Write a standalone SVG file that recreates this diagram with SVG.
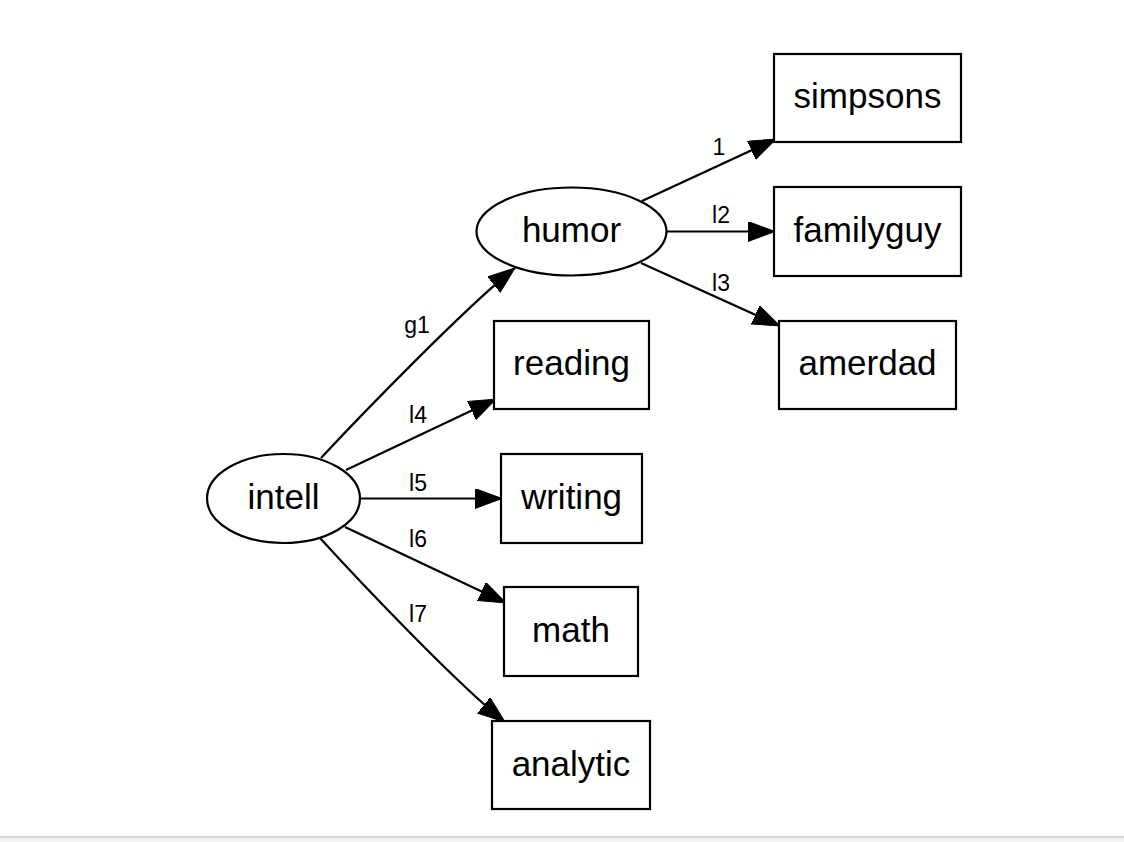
<svg xmlns="http://www.w3.org/2000/svg" width="1124" height="842" viewBox="0 0 1124 842">
<style>
.node{fill:#fff;stroke:#000;stroke-width:2.2}
.lbl{font-family:"Liberation Sans",Arial,sans-serif;font-size:35px;text-anchor:middle;fill:#000}
.elbl{font-family:"Liberation Sans",Arial,sans-serif;font-size:23px;text-anchor:middle;fill:#000}
.edge{fill:none;stroke:#000;stroke-width:2.2;marker-end:url(#arrow)}
</style>
<defs>
<marker id="arrow" markerUnits="userSpaceOnUse" markerWidth="28" markerHeight="22" refX="27" refY="10" orient="auto">
<path d="M0,0 L27,10 L0,20 z" fill="#000" stroke="#000" stroke-width="1"/>
</marker>
</defs>
<rect x="0" y="0" width="1124" height="842" fill="#fff"/>
<rect x="0" y="836" width="1124" height="2" fill="#d3d7db"/>
<rect x="0" y="838" width="1124" height="4" fill="#f0f2f4"/>
<g id="connectors">
<path class="edge" d="M642,201 L776,139"/>
<path class="edge" d="M667,231.5 L775,231.5"/>
<path class="edge" d="M641,263 L780,326"/>
<path class="edge" d="M321,458 C362,414 468,305 515,268"/>
<path class="edge" d="M346,470 L496,399"/>
<path class="edge" d="M360,498.5 L502,498.5"/>
<path class="edge" d="M345,527 L506,603"/>
<path class="edge" d="M320,538 C361,583 458,685 505,722"/>
<text class="elbl" x="719" y="155">1</text>
<text class="elbl" x="721" y="223">l2</text>
<text class="elbl" x="721" y="291">l3</text>
<text class="elbl" x="417" y="333">g1</text>
<text class="elbl" x="418" y="423">l4</text>
<text class="elbl" x="418" y="491">l5</text>
<text class="elbl" x="418" y="547">l6</text>
<text class="elbl" x="418" y="622">l7</text>
</g>
<g id="simpsons"><rect class="node" x="774" y="54" width="187" height="88"/><text class="lbl" x="867.5" y="108">simpsons</text></g>
<g id="familyguy"><rect class="node" x="774" y="187" width="187" height="89"/><text class="lbl" x="867.5" y="242">familyguy</text></g>
<g id="amerdad"><rect class="node" x="779" y="321" width="177" height="88"/><text class="lbl" x="867.5" y="375">amerdad</text></g>
<g id="humor"><ellipse class="node" cx="571.5" cy="231.5" rx="95" ry="44"/><text class="lbl" x="571.5" y="242">humor</text></g>
<g id="reading"><rect class="node" x="494" y="321" width="155" height="88"/><text class="lbl" x="571.5" y="375">reading</text></g>
<g id="intell"><ellipse class="node" cx="283.5" cy="498.5" rx="76.5" ry="44.5"/><text class="lbl" x="283.5" y="509">intell</text></g>
<g id="writing"><rect class="node" x="501" y="454" width="141" height="89"/><text class="lbl" x="571.5" y="509">writing</text></g>
<g id="math"><rect class="node" x="504" y="587" width="134" height="89"/><text class="lbl" x="571" y="642">math</text></g>
<g id="analytic"><rect class="node" x="492" y="721" width="158" height="88"/><text class="lbl" x="571" y="776">analytic</text></g>
</svg>
